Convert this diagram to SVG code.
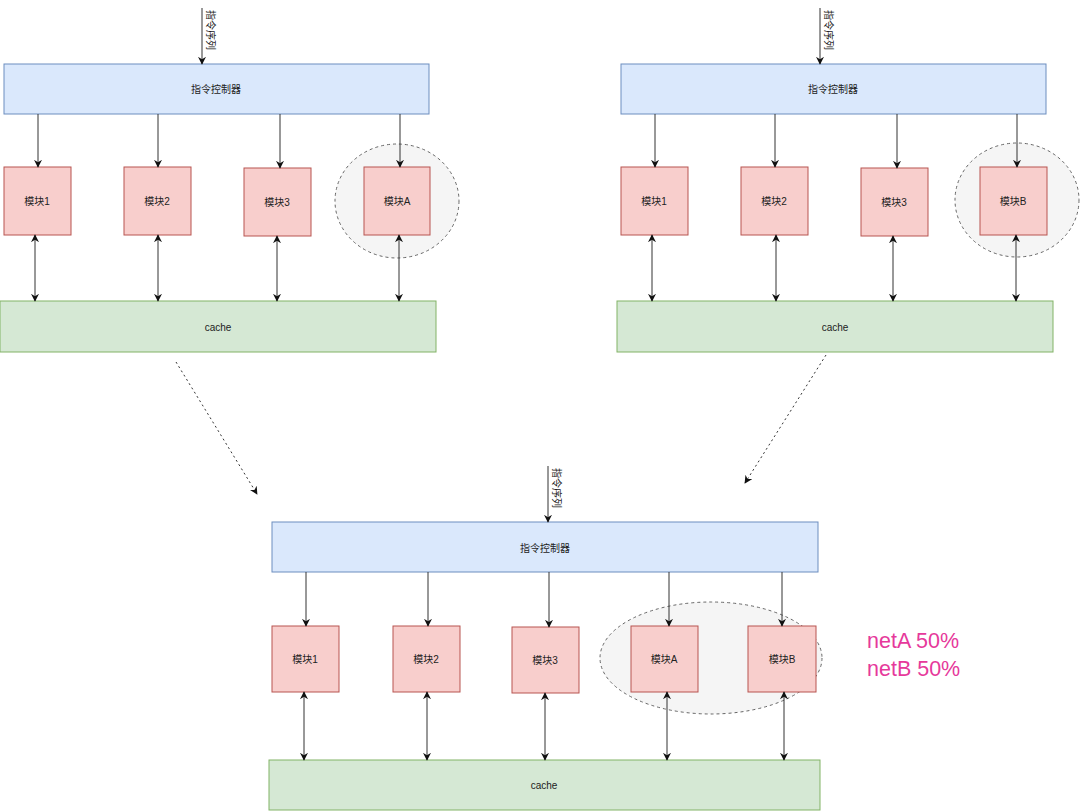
<svg xmlns="http://www.w3.org/2000/svg" width="1080" height="811" viewBox="0 0 1080 811">
<style>
.ctrl{fill:#dae8fc;stroke:#6c8ebf;stroke-width:1}
.mod{fill:#f8cecc;stroke:#b85450;stroke-width:1}
.cache{fill:#d5e8d4;stroke:#82b366;stroke-width:1}
.grp{fill:#f5f5f5;stroke:#666;stroke-width:1;stroke-dasharray:3 3}
.t{font-family:"Liberation Sans","Noto Sans CJK SC",sans-serif;font-size:10px;fill:#222;text-anchor:middle;dominant-baseline:central}
.ln{stroke:#333;stroke-width:1;fill:none}
.da{stroke:#333;stroke-width:1;fill:none;stroke-dasharray:2 3}
.pct{font-family:"Liberation Sans",Arial,sans-serif;font-size:21.5px;fill:#e6399b}
</style>
<defs>
<marker id="ah" viewBox="0 0 10 10" refX="9" refY="5" markerWidth="8" markerHeight="8" orient="auto-start-reverse" markerUnits="userSpaceOnUse">
<path d="M0,0 L10,5 L0,10 L3,5 Z" fill="#111"/>
</marker>
</defs>
<rect width="1080" height="811" fill="#ffffff"/>

<g id="grp-left"><ellipse class="grp" cx="397" cy="201" rx="62" ry="57"/></g>
<g id="grp-right"><ellipse class="grp" cx="1017" cy="200" rx="62" ry="57"/></g>
<g id="grp-bottom"><ellipse class="grp" cx="711" cy="658" rx="111" ry="56"/></g>

<g id="ctrl-left"><rect class="ctrl" x="4" y="64" width="425" height="50"/><text class="t" x="216" y="89">指令控制器</text></g>
<g id="ctrl-right"><rect class="ctrl" x="621" y="64" width="425" height="50"/><text class="t" x="833" y="89">指令控制器</text></g>
<g id="ctrl-bottom"><rect class="ctrl" x="272" y="522" width="546" height="50"/><text class="t" x="545" y="548">指令控制器</text></g>

<g id="L-m1"><rect class="mod" x="4" y="167" width="67" height="68"/><text class="t" x="37" y="201">模块1</text></g>
<g id="L-m2"><rect class="mod" x="124" y="167" width="67" height="68"/><text class="t" x="157" y="201">模块2</text></g>
<g id="L-m3"><rect class="mod" x="244" y="168" width="67" height="68"/><text class="t" x="277" y="202">模块3</text></g>
<g id="L-mA"><rect class="mod" x="364" y="167" width="66" height="68"/><text class="t" x="397" y="201">模块A</text></g>

<g id="R-m1"><rect class="mod" x="621" y="167" width="67" height="68"/><text class="t" x="654" y="201">模块1</text></g>
<g id="R-m2"><rect class="mod" x="741" y="167" width="67" height="68"/><text class="t" x="774" y="201">模块2</text></g>
<g id="R-m3"><rect class="mod" x="861" y="168" width="67" height="68"/><text class="t" x="894" y="202">模块3</text></g>
<g id="R-mB"><rect class="mod" x="980" y="167" width="67" height="68"/><text class="t" x="1013" y="201">模块B</text></g>

<g id="B-m1"><rect class="mod" x="272" y="626" width="67" height="66"/><text class="t" x="305" y="659">模块1</text></g>
<g id="B-m2"><rect class="mod" x="393" y="626" width="67" height="66"/><text class="t" x="426" y="659">模块2</text></g>
<g id="B-m3"><rect class="mod" x="512" y="627" width="67" height="66"/><text class="t" x="545" y="660">模块3</text></g>
<g id="B-mA"><rect class="mod" x="631" y="626" width="67" height="66"/><text class="t" x="664" y="659">模块A</text></g>
<g id="B-mB"><rect class="mod" x="748" y="626" width="68" height="66"/><text class="t" x="782" y="659">模块B</text></g>

<g id="cache-left"><rect class="cache" x="0" y="301" width="436" height="51"/><text class="t" x="218" y="327">cache</text></g>
<g id="cache-right"><rect class="cache" x="617" y="301" width="436" height="51"/><text class="t" x="835" y="327">cache</text></g>
<g id="cache-bottom"><rect class="cache" x="269" y="760" width="551" height="50"/><text class="t" x="544" y="785">cache</text></g>

<g id="labels">
<text class="t" transform="translate(210,30) rotate(90)">指令序列</text>
<text class="t" transform="translate(828,30) rotate(90)">指令序列</text>
<text class="t" transform="translate(556,488) rotate(90)">指令序列</text>
<text class="pct" x="867" y="648">netA 50%</text>
<text class="pct" x="867" y="676">netB 50%</text>
</g>

<g id="connectors">
<line class="ln" x1="202" y1="8" x2="202" y2="64" marker-end="url(#ah)"/>
<line class="ln" x1="820" y1="8" x2="820" y2="64" marker-end="url(#ah)"/>
<line class="ln" x1="548" y1="466" x2="548" y2="522" marker-end="url(#ah)"/>

<line class="ln" x1="38" y1="114" x2="38" y2="167" marker-end="url(#ah)"/>
<line class="ln" x1="158" y1="114" x2="158" y2="167" marker-end="url(#ah)"/>
<line class="ln" x1="280" y1="114" x2="280" y2="168" marker-end="url(#ah)"/>
<line class="ln" x1="400" y1="114" x2="400" y2="167" marker-end="url(#ah)"/>

<line class="ln" x1="655" y1="114" x2="655" y2="167" marker-end="url(#ah)"/>
<line class="ln" x1="775" y1="114" x2="775" y2="167" marker-end="url(#ah)"/>
<line class="ln" x1="897" y1="114" x2="897" y2="168" marker-end="url(#ah)"/>
<line class="ln" x1="1017" y1="114" x2="1017" y2="167" marker-end="url(#ah)"/>

<line class="ln" x1="306" y1="572" x2="306" y2="626" marker-end="url(#ah)"/>
<line class="ln" x1="428" y1="572" x2="428" y2="626" marker-end="url(#ah)"/>
<line class="ln" x1="549" y1="572" x2="549" y2="627" marker-end="url(#ah)"/>
<line class="ln" x1="669" y1="572" x2="669" y2="626" marker-end="url(#ah)"/>
<line class="ln" x1="782" y1="572" x2="782" y2="626" marker-end="url(#ah)"/>

<line class="ln" x1="35" y1="235" x2="35" y2="301" marker-start="url(#ah)" marker-end="url(#ah)"/>
<line class="ln" x1="158" y1="235" x2="158" y2="301" marker-start="url(#ah)" marker-end="url(#ah)"/>
<line class="ln" x1="277" y1="236" x2="277" y2="301" marker-start="url(#ah)" marker-end="url(#ah)"/>
<line class="ln" x1="399" y1="235" x2="399" y2="301" marker-start="url(#ah)" marker-end="url(#ah)"/>

<line class="ln" x1="652" y1="235" x2="652" y2="301" marker-start="url(#ah)" marker-end="url(#ah)"/>
<line class="ln" x1="776" y1="235" x2="776" y2="301" marker-start="url(#ah)" marker-end="url(#ah)"/>
<line class="ln" x1="893" y1="236" x2="893" y2="301" marker-start="url(#ah)" marker-end="url(#ah)"/>
<line class="ln" x1="1016" y1="235" x2="1016" y2="301" marker-start="url(#ah)" marker-end="url(#ah)"/>

<line class="ln" x1="304" y1="692" x2="304" y2="760" marker-start="url(#ah)" marker-end="url(#ah)"/>
<line class="ln" x1="427" y1="692" x2="427" y2="760" marker-start="url(#ah)" marker-end="url(#ah)"/>
<line class="ln" x1="545" y1="693" x2="545" y2="760" marker-start="url(#ah)" marker-end="url(#ah)"/>
<line class="ln" x1="667" y1="692" x2="667" y2="760" marker-start="url(#ah)" marker-end="url(#ah)"/>
<line class="ln" x1="784" y1="692" x2="784" y2="760" marker-start="url(#ah)" marker-end="url(#ah)"/>

<line class="da" x1="176" y1="362" x2="257" y2="494" marker-end="url(#ah)"/>
<line class="da" x1="826" y1="355" x2="745" y2="483" marker-end="url(#ah)"/>
</g>
</svg>
